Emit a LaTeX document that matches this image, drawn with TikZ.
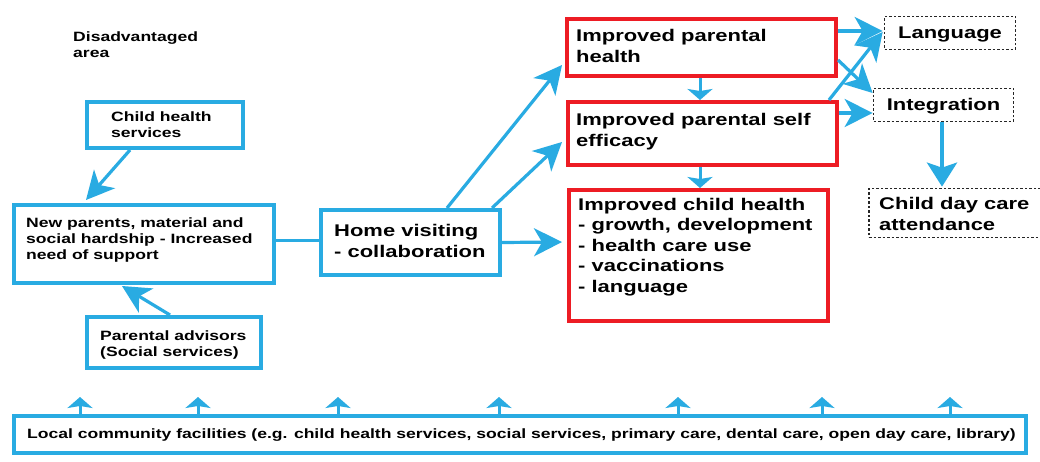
\documentclass[tikz,border=0pt]{standalone}
\usepackage{fontspec}
\setmainfont{Liberation Sans}[FakeStretch=1.3]
\usetikzlibrary{arrows.meta,calc}
\definecolor{flowblue}{RGB}{41,171,226}
\definecolor{flowred}{RGB}{237,28,36}
\begin{document}
\begin{tikzpicture}[x=1pt,y=-1pt,
  bluebox/.style={draw=flowblue,line width=4pt,inner sep=0pt,fill=white},
  redbox/.style={draw=flowred,line width=4pt,inner sep=0pt,fill=white},
  dotbox/.style={draw=black!85,line width=1.7pt,dash pattern=on 2.5pt off 2pt,inner sep=0pt},
  smalltext/.style={align=left,inner sep=0pt,font=\bfseries\fontsize{13.5}{16}\selectfont},
  bigtext/.style={align=left,inner sep=0pt,font=\bfseries\fontsize{16.9}{20.5}\selectfont},
  link/.style={draw=flowblue,line width=3.2pt,-{Stealth[length=28pt 0,width=28pt 0,inset=8pt 0]}},
  droplink/.style={draw=flowblue,line width=4pt,-{Stealth[length=24pt 0,width=30pt 0,inset=5pt 0]}},
  shortlink/.style={draw=flowblue,line width=3pt,-{Stealth[length=11pt 0,width=25pt 0,inset=2pt 0]}},
  plainlink/.style={draw=flowblue,line width=3pt}]

% page
\fill[white] (0,0) rectangle (1040,462);
\useasboundingbox (0,0) rectangle (1040,462);

% heading
\node[smalltext,anchor=west] (dis) at (73,44.5) {Disadvantaged\\area};

% left column
\node[bluebox,minimum width=156pt,minimum height=46pt] (chs) at (165,125) {};
\node[smalltext,anchor=west] (chst) at (111,125) {Child health\\services};

\node[bluebox,minimum width=260pt,minimum height=78pt] (np) at (144,244) {};
\node[smalltext,anchor=west] (npt) at (26,240.5) {New parents, material and\\social hardship - Increased\\need of support};

\node[bluebox,minimum width=174pt,minimum height=51pt] (pa) at (174,342.5) {};
\node[smalltext,anchor=west] (pat) at (100,345) {Parental advisors\\(Social services)};

% intervention
\node[bluebox,minimum width=179pt,minimum height=65pt] (hv) at (410.5,242.5) {};
\node[bigtext,anchor=west] (hvt) at (334,241) {Home visiting\\- collaboration};

% outcomes
\node[redbox,minimum width=269pt,minimum height=57pt] (ph) at (701.5,47.5) {};
\node[bigtext,anchor=west] (pht) at (576,46) {Improved parental\\health};

\node[redbox,minimum width=269pt,minimum height=63pt] (se) at (702.5,133.5) {};
\node[bigtext,anchor=west] (set) at (576,131.5) {Improved parental self\\efficacy};

\node[redbox,minimum width=259pt,minimum height=131pt] (ch) at (698.5,255.5) {};
\node[bigtext,anchor=west] (cht) at (578,247) {Improved child health\\- growth, development\\- health care use\\- vaccinations\\- language};

% longer-term outcomes
\node[dotbox,minimum width=131pt,minimum height=33pt] (lang) at (950,33) {};
\node[bigtext] (langt) at (950,34.5) {Language};

\node[dotbox,minimum width=140pt,minimum height=33pt] (integ) at (943.5,105) {};
\node[bigtext] (integt) at (943.5,106) {Integration};

\node[dotbox,minimum width=176pt,minimum height=49pt] (dc) at (957,213) {};
\node[bigtext,anchor=west] (dct) at (879,214) {Child day care\\attendance};

% community base
\node[bluebox,minimum width=1012pt,minimum height=37pt] (lc) at (520,434.5) {};
\node[smalltext] (lct) at (521.5,435) {Local community facilities (e.g. child health services, social services, primary care, dental care, open day care, library)};

% connectors on the left
\draw[link] ($(chs.south)+(-35,0)$) -- ($(np.north west)+(74,-3)$);
\draw[link] ($(pa.north)+(-4,0)$) -- ($(np.south)+(-22,1)$);
\draw[plainlink] ($(np.east)+(0,-3.5)$) -- ($(hv.west)+(0,-2)$);

% home visiting to outcomes
\draw[link] ($(hv.north)+(36.5,0)$) -- ($(ph.west)+(-3,17.5)$);
\draw[link] ($(hv.north)+(81.5,0)$) -- ($(se.west)+(-4,8.5)$);
\draw[link] (hv.east) -- ($(ch.west)+(-5,-13.5)$);

% between outcome boxes
\draw[shortlink] ($(ph.south)+(-1.5,0)$) -- ($(se.north)+(-2.5,0)$);
\draw[shortlink] ($(se.south)+(-2.5,0)$) -- ($(ch.north)+(1.5,0)$);

% outcomes to longer-term outcomes
\draw[link] ($(ph.east)+(0,-16.5)$) -- ($(lang.west)+(-1,-2)$);
\draw[link] ($(ph.east)+(0,12.5)$) -- ($(integ.west)+(0,-12)$);
\draw[link] ($(se.north east)+(-10,0)$) -- ($(lang.west)+(-1,-1)$);
\draw[link] ($(se.east)+(0,-20.5)$) -- ($(integ.west)+(0,8)$);
\draw[droplink] ($(integ.south)+(-1.5,0)$) -- ($(integ.south |- dc.north)+(-1.5,-1)$);

% arrows rising from the community facilities
\foreach \ax [count=\i] in {80,198,338,499,678,822,950}{
  \coordinate (up\i) at (\ax,397);
  \draw[shortlink] (lc.north -| up\i) -- (up\i);
}
\end{tikzpicture}
\end{document}
